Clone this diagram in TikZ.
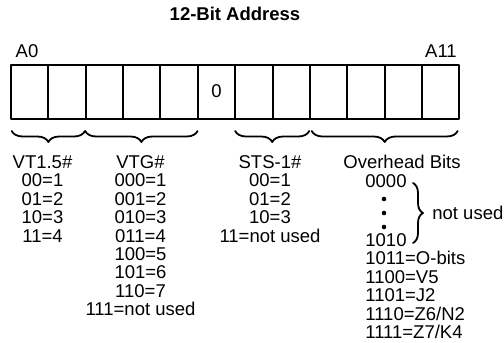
\documentclass[tikz,border=0pt]{standalone}
\usepackage{fontspec}
\setmainfont{Liberation Sans}
\usetikzlibrary{decorations.pathreplacing,calc}

\begin{document}
\begin{tikzpicture}[
  x=0.5pt, y=-0.5pt,
  line cap=round,
  line join=round,
  every node/.style={font=\fontsize{9.25pt}{9.2pt}\selectfont, inner sep=0pt},
  bitcell/.style={draw, line width=1pt, minimum width=18.68pt, minimum height=27pt},
  fieldbrace/.style={decorate, decoration={brace, amplitude=5.5pt}, line width=0.9pt},
  column/.style={align=center, anchor=base}
]
  \useasboundingbox (0,0) rectangle (504,343);

  % the twelve address bits, A0 on the left
  \foreach \i in {0,...,11}{\node[bitcell] (a\i) at ({29.68+37.36*\i}, 91.5) {};}
  \node (zero) at (a5) {0};

  \node[font=\fontsize{9.25pt}{9.2pt}\selectfont\bfseries] (title) at (235,14) {12-Bit Address};
  \node (lo) at (27,51.5) {A0};
  \node (hi) at (441,51.5) {A11};

  % field braces under the register
  \draw[fieldbrace, decoration={mirror}] ($(a0.south west)+(1.7,11.5)$) -- ($(a1.south east)+(-1.7,11.5)$);
  \draw[fieldbrace, decoration={mirror}] ($(a2.south west)+(0.5,11.5)$) -- ($(a4.south east)+(-1.2,11.5)$);
  \draw[fieldbrace, decoration={mirror}] ($(a6.south west)+(1.0,11.5)$) -- ($(a7.south east)+(-1.6,11.5)$);
  \draw[fieldbrace, decoration={mirror}] ($(a8.south west)+(2.8,11.5)$) -- ($(a11.south east)+(-2.6,11.5)$);

  % field codes (base = baseline of the last line)
  \node[column] (vt)  at (42.5,242.1) {VT1.5\#\\00=1\\01=2\\10=3\\11=4};
  \node[column] (vtg) at (140.5,315.7) {VTG\#\\000=1\\001=2\\010=3\\011=4\\100=5\\101=6\\110=7\\111=not used};
  \node[column] (sts) at (270,242.1) {STS-1\#\\00=1\\01=2\\10=3\\11=not used};

  \node[anchor=base west] (oh)   at (343,168.5) {Overhead Bits};
  \node[anchor=base west] (oh0)  at (365,187) {0000};
  \node[anchor=base west, align=left] (oh10) at (365,338.5)
    {1010\\1011=O-bits\\1100=V5\\1101=J2\\1110=Z6/N2\\1111=Z7/K4};
  \foreach \y in {199,213,227}{\fill (384,\y) circle (1.15pt);}

  % unused overhead codes
  \draw[fieldbrace, decoration={amplitude=5pt}] (413,183) -- (413,243);
  \node[anchor=west] (unused) at (432,213) {not used};
\end{tikzpicture}
\end{document}
